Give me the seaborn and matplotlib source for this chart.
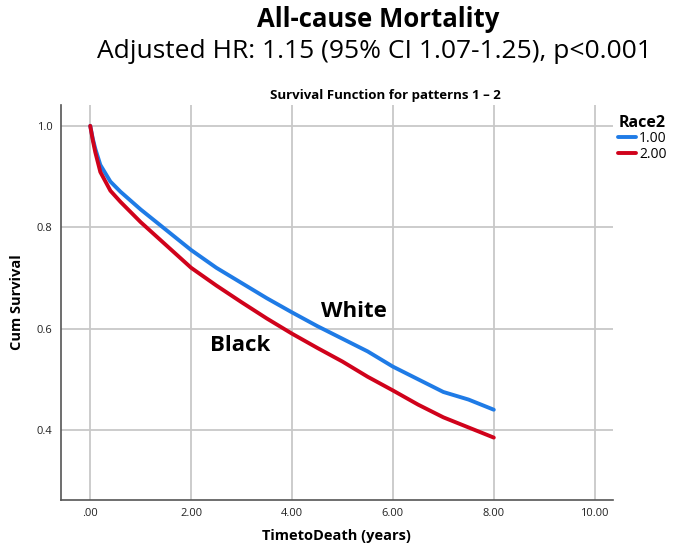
import matplotlib
matplotlib.use("Agg")
import matplotlib.pyplot as plt
import pandas as pd
import seaborn as sns

# -------- data --------
time_years = [0.0, 0.05, 0.1, 0.2, 0.4, 0.6, 1.0, 1.5, 2.0, 2.5, 3.0, 3.5,
              4.0, 4.5, 5.0, 5.5, 6.0, 6.5, 7.0, 7.5, 8.0]
surv_white = [1.0, 0.975, 0.955, 0.923, 0.89, 0.87, 0.835, 0.795, 0.755, 0.72, 0.69, 0.66,
              0.632, 0.605, 0.58, 0.555, 0.525, 0.50, 0.475, 0.46, 0.44]
surv_black = [1.0, 0.972, 0.948, 0.909, 0.872, 0.85, 0.81, 0.765, 0.72, 0.685, 0.652, 0.62,
              0.59, 0.562, 0.535, 0.505, 0.478, 0.45, 0.425, 0.405, 0.385]
race_codes = ["1.00", "2.00"]
x_ticks = [0, 2, 4, 6, 8, 10]
x_tick_labels = [".00", "2.00", "4.00", "6.00", "8.00", "10.00"]
y_ticks = [0.4, 0.6, 0.8, 1.0]

df = pd.DataFrame({
    "TimetoDeath": time_years * 2,
    "Cum Survival": surv_white + surv_black,
    "Race2": [race_codes[0]] * len(time_years) + [race_codes[1]] * len(time_years),
})

# -------- plotting --------
sns.set_theme(style="whitegrid")
plt.rcParams["font.family"] = ["Open Sans", "DejaVu Sans"]
plt.rcParams["text.color"] = "black"
plt.rcParams["axes.labelcolor"] = "black"

fig = plt.figure(figsize=(6.73, 5.5), dpi=100)
ax = fig.add_axes([0.0906, 0.091, 0.82, 0.718])

palette = {"1.00": "#1f7be6", "2.00": "#d0021b"}
sns.lineplot(data=df, x="TimetoDeath", y="Cum Survival", hue="Race2",
             palette=palette, linewidth=2.8, ax=ax)

ax.set_xlim(-0.58, 10.36)
ax.set_ylim(0.262, 1.041)
ax.set_xticks(x_ticks)
ax.set_xticklabels(x_tick_labels)
ax.set_yticks(y_ticks)
ax.set_yticklabels([f"{v:.1f}" for v in y_ticks])
ax.tick_params(axis="both", labelsize=8, colors="#222222", length=0, pad=6)
ax.grid(True, color="#c8c8c8", linewidth=1.3)
for side in ["top", "right"]:
    ax.spines[side].set_visible(False)
for side in ["left", "bottom"]:
    ax.spines[side].set_color("#555555")
    ax.spines[side].set_linewidth(1.2)

ax.set_xlabel("TimetoDeath (years)", fontsize=10.5, fontweight="bold", labelpad=7)
ax.set_ylabel("Cum Survival", fontsize=10.5, fontweight="bold", labelpad=9)

ax.text(5.23, 0.633, "White", fontsize=16, fontweight="bold", ha="center", va="center")
ax.text(2.97, 0.566, "Black", fontsize=16, fontweight="bold", ha="center", va="center")

leg = ax.legend(title="Race2", loc="upper left", bbox_to_anchor=(1.0, 0.99),
                frameon=False, fontsize=10, title_fontsize=11.5, handlelength=1.3,
                handletextpad=0.2, labelspacing=0.05, borderaxespad=0)
leg.get_title().set_fontweight("bold")

fig.text(0.562, 0.965, "All-cause Mortality", fontsize=18.5, fontweight="bold",
         ha="center", va="center")
fig.text(0.557, 0.906, "Adjusted HR: 1.15 (95% CI 1.07-1.25), p<0.001", fontsize=19,
         ha="center", va="center")
fig.text(0.573, 0.827, "Survival Function for patterns 1 \u2013 2", fontsize=9.5,
         fontweight="bold", ha="center", va="center")

fig.savefig("out.png", dpi=100)
